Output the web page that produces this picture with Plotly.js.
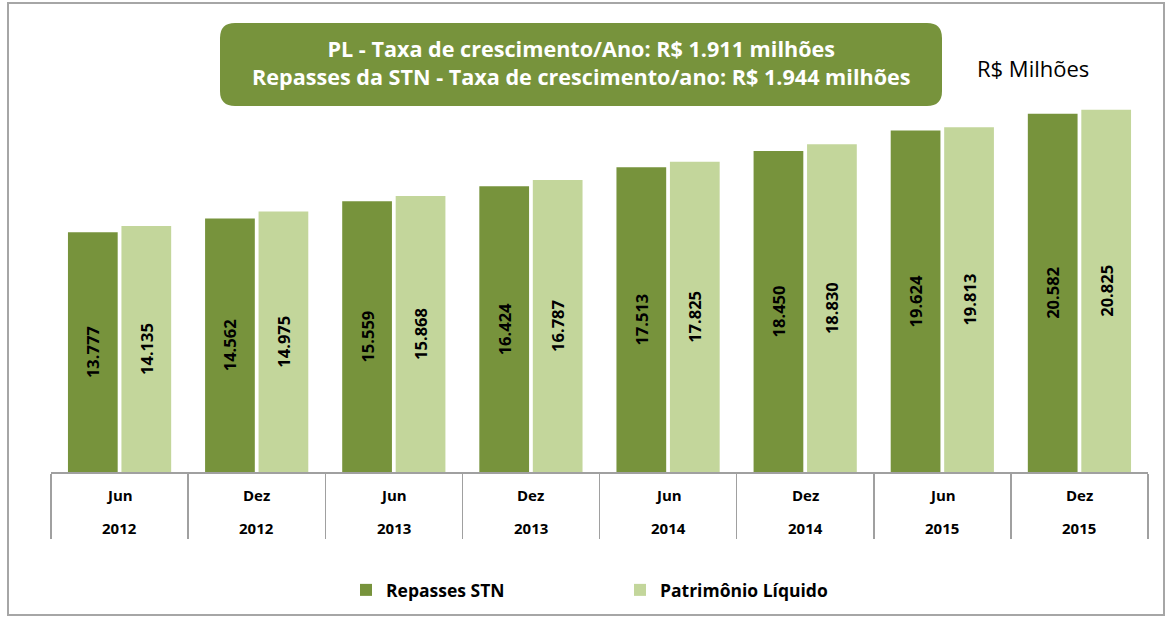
<!DOCTYPE html>
<html>
<head>
<meta charset="utf-8">
<script src="https://cdn.plot.ly/plotly-3.0.1.min.js"></script>
<style>html,body{margin:0;padding:0;background:#fff;}#chart{width:1173px;height:620px;}</style>
</head>
<body>
<div id="chart"></div>
<script>
// ---- data ----
var months = ['Jun','Dez','Jun','Dez','Jun','Dez','Jun','Dez'];
var years = ['2012','2012','2013','2013','2014','2014','2015','2015'];
var repassesSTN = [13777,14562,15559,16424,17513,18450,19624,20582];
var patrimonioLiquido = [14135,14975,15868,16787,17825,18830,19813,20825];
var seriesNames = ['Repasses STN','Patrimônio Líquido'];
var titleLines = ['PL - Taxa de crescimento/Ano: R$ 1.911 milhões',
                  'Repasses da STN - Taxa de crescimento/ano: R$ 1.944 milhões'];
var unitLabel = 'R$ Milhões';

var categories = months.map(function(m,i){ return m + ' ' + years[i]; });

// ---- geometry helpers (pixel -> paper) ----
var W = 1173, H = 620;
var mL = 51, mR = 25, mT = 37, mB = 148;
var pw = W - mL - mR, ph = H - mT - mB;
function px(x){ return (x - mL) / pw; }
function py(y){ return (H - mB - y) / ph; }

var FONT = 'Open Sans, Noto Sans, sans-serif';
var dark = '#77933C', light = '#C3D69B';

var common = {
  type: 'bar',
  x: categories,
  texttemplate: '%{y:,.0f}',
  textposition: 'inside',
  insidetextanchor: 'middle',
  textangle: -90,
  constraintext: 'none',
  textfont: {family: FONT, size: 16.5, color: '#000', weight: 'bold'},
  hoverinfo: 'skip'
};
var t1 = Object.assign({}, common, {name: seriesNames[0], y: repassesSTN, marker: {color: dark}});
var t2 = Object.assign({}, common, {name: seriesNames[1], y: patrimonioLiquido, marker: {color: light}});

// rounded title box
var bx0 = 220, bx1 = 942, by0 = 23, by1 = 106, r = 15;
function P(x,y){ return px(x) + ',' + py(y); }
var boxPath = 'M' + P(bx0 + r, by0) +
  ' L' + P(bx1 - r, by0) + ' Q' + P(bx1, by0) + ' ' + P(bx1, by0 + r) +
  ' L' + P(bx1, by1 - r) + ' Q' + P(bx1, by1) + ' ' + P(bx1 - r, by1) +
  ' L' + P(bx0 + r, by1) + ' Q' + P(bx0, by1) + ' ' + P(bx0, by1 - r) +
  ' L' + P(bx0, by0 + r) + ' Q' + P(bx0, by0) + ' ' + P(bx0 + r, by0) + ' Z';

var annotations = [
  {xref:'paper', yref:'paper', x: px(581), y: py(63), xanchor:'center', yanchor:'middle', showarrow:false,
   text: titleLines.join('<br>'), align: 'center', font:{family: FONT, size: 21.6, color:'#fff', weight:'bold'}},
  {xref:'paper', yref:'paper', x: px(1033), y: py(68), xanchor:'center', yanchor:'middle', showarrow:false,
   text: unitLabel, font:{family: FONT, size: 22, color:'#000'}}
];
categories.forEach(function(c,i){
  annotations.push({xref:'x', yref:'paper', x: c, y: py(495), xanchor:'center', yanchor:'middle', showarrow:false,
    text: months[i], font:{family: FONT, size: 15, color:'#000', weight:'bold'}});
  annotations.push({xref:'x', yref:'paper', x: c, y: py(528), xanchor:'center', yanchor:'middle', showarrow:false,
    text: years[i], font:{family: FONT, size: 15, color:'#000', weight:'bold'}});
});

var layout = {
  width: W, height: H,
  margin: {l: mL, r: mR, t: mT, b: mB, pad: 0},
  paper_bgcolor: '#fff', plot_bgcolor: '#fff',
  separators: ',.',
  barmode: 'group', bargap: 0.22, bargroupgap: 0.07,
  showlegend: true,
  legend: {orientation: 'h', x: px(346), xanchor: 'left', y: py(590), yanchor: 'middle',
    font: {family: FONT, size: 17.5, color: '#000', weight: 'bold'}, entrywidth: 229, traceorder: 'normal'},
  xaxis: {type: 'category', range: [-0.5, 7.5], showline: true, linecolor: '#A0A0A0', linewidth: 1.5,
    ticks: 'outside', tickson: 'boundaries', ticklen: 65, tickcolor: '#A0A0A0', tickwidth: 1.5,
    showticklabels: false, showgrid: false, zeroline: false, fixedrange: true},
  yaxis: {range: [0, 25000], visible: false, showgrid: false, zeroline: false, fixedrange: true},
  shapes: [
    {type: 'rect', xref: 'paper', yref: 'paper', x0: px(8), x1: px(1164), y0: py(615), y1: py(3),
     line: {color: '#A6A6A6', width: 2}, fillcolor: 'rgba(0,0,0,0)', layer: 'below'},
    {type: 'path', xref: 'paper', yref: 'paper', path: boxPath, fillcolor: dark, line: {width: 0}, layer: 'above'}
  ],
  annotations: annotations
};

Plotly.newPlot('chart', [t1, t2], layout, {displayModeBar: false, staticPlot: true});
</script>
</body>
</html>
